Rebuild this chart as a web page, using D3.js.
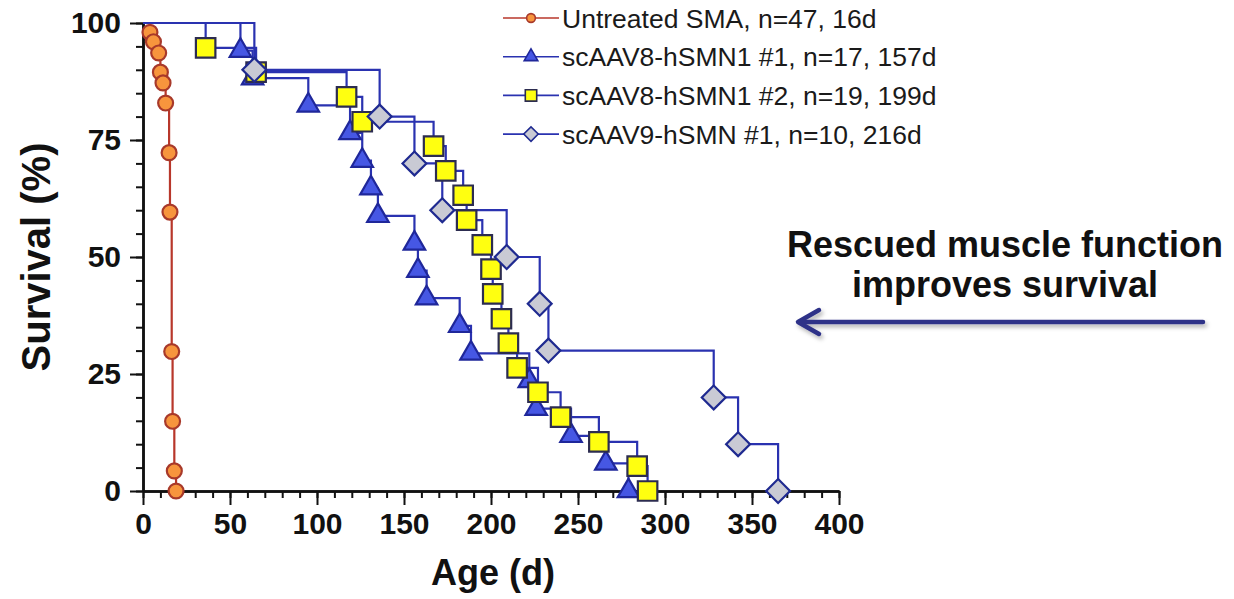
<!DOCTYPE html>
<html>
<head>
<meta charset="utf-8">
<script src="https://cdn.jsdelivr.net/npm/d3@7"></script>
<style>
  html, body { margin: 0; padding: 0; background: #fff; }
  svg { display: block; font-family: "Liberation Sans", Arial, Helvetica, sans-serif; }
</style>
</head>
<body>
<svg id="chart" width="1234" height="599"></svg>
<script>
// Kaplan-Meier survival (day of each death, % surviving after it)
const untreatedDays = [4, 6, 9, 10, 11.5, 13, 15, 15.5, 16.5, 17, 18, 19];
const untreatedPct  = [98, 96, 93.6, 89.5, 87.2, 82.9, 72.3, 59.6, 29.8, 14.9, 4.3, 0];

const aav8aDays = [56, 63, 95, 119, 126, 131, 135, 156, 158, 163, 182, 188.5, 222, 226, 246, 266, 279];
const aav8aPct  = [94.1, 88.2, 82.4, 76.5, 70.6, 64.7, 58.8, 52.9, 47.1, 41.2, 35.3, 29.4, 23.5, 17.6, 11.8, 5.9, 0];

const aav8bDays = [36, 65, 117, 126, 167, 174, 184, 186, 195, 200, 201, 206, 210, 215, 227, 240, 262, 284, 290];
const aav8bPct  = [94.7, 89.5, 84.2, 78.9, 73.7, 68.4, 63.2, 57.9, 52.6, 47.4, 42.1, 36.8, 31.6, 26.3, 21.1, 15.8, 10.5, 5.3, 0];

const aav9Days = [64, 136, 156, 172, 209, 228, 233, 328, 342, 365];
const aav9Pct  = [90, 80, 70, 60, 50, 40, 30, 20, 10, 0];

const legendLabels = [
  'Untreated SMA, n=47, 16d',
  'scAAV8-hSMN1 #1, n=17, 157d',
  'scAAV8-hSMN1 #2, n=19, 199d',
  'scAAV9-hSMN #1, n=10, 216d'
];
const xTicks = [0, 50, 100, 150, 200, 250, 300, 350, 400];
const yTicks = [0, 25, 50, 75, 100];
const noteLines = ['Rescued muscle function', 'improves survival'];

const BLUE = '#2a32b0';
const series = [
  { days: untreatedDays, pct: untreatedPct, line: '#b8372b', shape: d3.symbolCircle, rot: 0, size: 175, legSize: 60, fill: '#f7953d', stroke: '#a8392a' },
  { days: aav8aDays, pct: aav8aPct, line: BLUE, shape: d3.symbolTriangle, rot: 0, size: 200, legSize: 80, fill: '#4657e4', stroke: '#1f279a' },
  { days: aav8bDays, pct: aav8bPct, line: BLUE, shape: d3.symbolSquare, rot: 0, size: 380, legSize: 130, fill: '#ffff10', stroke: '#2c2c50' },
  { days: aav9Days, pct: aav9Pct, line: BLUE, shape: d3.symbolSquare, rot: 45, size: 285, legSize: 105, fill: '#c9cad4', stroke: '#1f2a90' }
];

const svg = d3.select('#chart');
const x = d3.scaleLinear().domain([0, 400]).range([143, 839]);
const y = d3.scaleLinear().domain([0, 100]).range([491, 23]);

// axes: minor ticks first, then majors with labels
function styleAxis(sel) {
  sel.select('.domain').attr('stroke', '#111').attr('stroke-width', 2.5);
  sel.selectAll('.tick line').attr('stroke', '#111').attr('stroke-width', 2);
}
svg.append('g').attr('transform', `translate(0,${y(0)})`)
  .call(d3.axisBottom(x).tickValues(d3.range(0, 401, 10)).tickSize(7).tickSizeOuter(0).tickFormat(''))
  .call(styleAxis);
svg.append('g').attr('transform', `translate(${x(0)},0)`)
  .call(d3.axisLeft(y).tickValues(d3.range(0, 101, 5)).tickSize(7).tickSizeOuter(0).tickFormat(''))
  .call(styleAxis);

const xAxis = svg.append('g').attr('transform', `translate(0,${y(0)})`)
  .call(d3.axisBottom(x).tickValues(xTicks).tickSize(14).tickSizeOuter(0).tickPadding(8))
  .call(styleAxis);
xAxis.selectAll('.tick text').attr('font-size', 30).attr('font-weight', 'bold').attr('fill', '#111')
  .attr('font-family', '"Liberation Sans", Arial, sans-serif');

const yAxis = svg.append('g').attr('transform', `translate(${x(0)},0)`)
  .call(d3.axisLeft(y).tickValues(yTicks).tickSize(13).tickSizeOuter(0).tickPadding(9))
  .call(styleAxis);
yAxis.selectAll('.tick text').attr('font-size', 30).attr('font-weight', 'bold').attr('fill', '#111')
  .attr('font-family', '"Liberation Sans", Arial, sans-serif');

// axis titles
svg.append('text')
  .attr('x', 493).attr('y', 585)
  .attr('text-anchor', 'middle').attr('font-size', 36).attr('font-weight', 'bold').attr('fill', '#111')
  .text('Age (d)');
svg.append('text')
  .attr('transform', `translate(50,${y(50)}) rotate(-90)`)
  .attr('text-anchor', 'middle').attr('font-size', 40).attr('font-weight', 'bold').attr('fill', '#111')
  .text('Survival (%)');

// step curves
const stepLine = d3.line().curve(d3.curveStepAfter).x(d => x(d[0])).y(d => y(d[1]));
series.forEach(s => {
  const pts = [[0, 100]].concat(s.days.map((d, i) => [d, s.pct[i]]));
  svg.append('path').datum(pts)
    .attr('fill', 'none').attr('stroke', s.line).attr('stroke-width', 2.2)
    .attr('d', stepLine);
});

// markers on top of all lines
series.forEach(s => {
  const sym = d3.symbol().type(s.shape).size(s.size);
  svg.append('g').selectAll('path')
    .data(s.days.map((d, i) => [d, s.pct[i]]))
    .join('path')
    .attr('transform', d => `translate(${x(d[0])},${y(d[1])}) rotate(${s.rot})`)
    .attr('d', sym)
    .attr('fill', s.fill).attr('stroke', s.stroke).attr('stroke-width', 2.2);
});

// legend
const leg = svg.append('g').attr('transform', 'translate(503,18)');
const rowH = 38.7;
series.forEach((s, i) => {
  const r = leg.append('g').attr('transform', `translate(0,${i * rowH})`);
  r.append('line').attr('x1', 0).attr('x2', 56).attr('y1', 0).attr('y2', 0)
    .attr('stroke', s.line).attr('stroke-width', 1.6);
  r.append('path').attr('transform', `translate(28,0) rotate(${s.rot})`)
    .attr('d', d3.symbol().type(s.shape).size(s.legSize))
    .attr('fill', s.fill).attr('stroke', s.stroke).attr('stroke-width', 1.6);
  r.append('text').attr('x', 59).attr('y', 9.5)
    .attr('font-size', 26.5).attr('fill', '#1a1a1a')
    .text(legendLabels[i]);
});

// annotation
const note = svg.append('g');
noteLines.forEach((t, i) => {
  note.append('text').attr('x', 1005).attr('y', 257 + i * 40)
    .attr('text-anchor', 'middle').attr('font-size', 36).attr('font-weight', 'bold').attr('fill', '#111')
    .text(t);
});
const defs = svg.append('defs');
const f = defs.append('filter').attr('id', 'shadow').attr('x', '-10%').attr('y', '-100%').attr('width', '120%').attr('height', '300%');
f.append('feDropShadow').attr('dx', 2).attr('dy', 3).attr('stdDeviation', 2).attr('flood-color', '#000').attr('flood-opacity', 0.3);
const arrow = note.append('g').attr('filter', 'url(#shadow)')
  .attr('stroke', '#2e3188').attr('stroke-width', 4.5).attr('stroke-linecap', 'round').attr('fill', 'none');
arrow.append('line').attr('x1', 1203).attr('x2', 799).attr('y1', 322).attr('y2', 322);
arrow.append('path').attr('d', 'M819,310 L798,322 L819,334').attr('stroke-linejoin', 'round');
</script>
</body>
</html>
